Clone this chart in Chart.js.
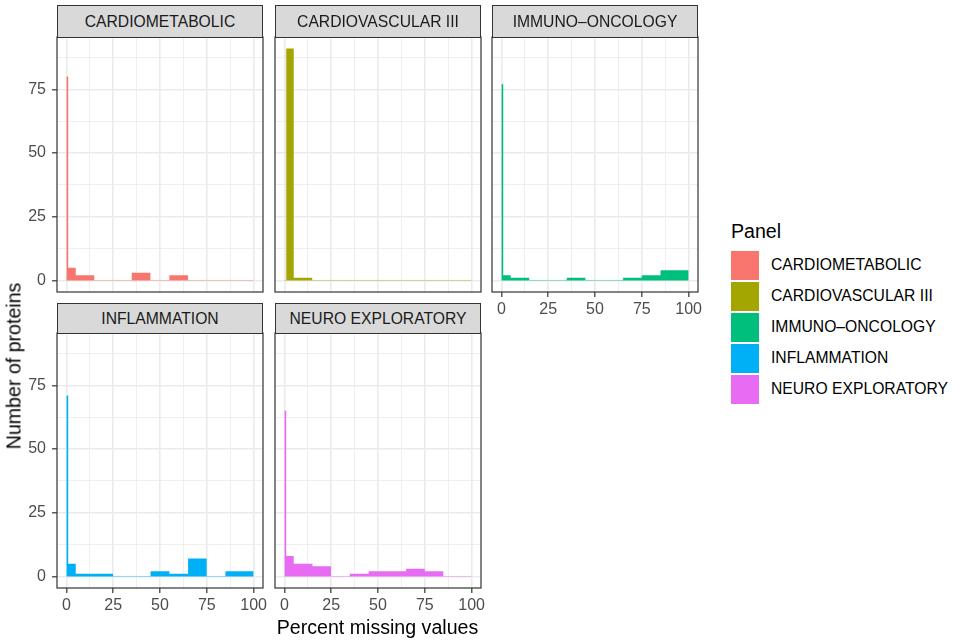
<!DOCTYPE html>
<html lang="en">
<head>
<meta charset="UTF-8" />
<title>Percent missing values per panel</title>
<script src="https://cdn.jsdelivr.net/npm/chart.js"></script>
<style>
  body { margin: 0; background: #fff; font-family: "Liberation Sans", Arial, Helvetica, sans-serif; }
  #wrap { position: relative; width: 957px; height: 641px; overflow: hidden; background: #fff; }
  canvas, .strip, .txt, .key { position: absolute; }
  .strip {
    background: #D9D9D9;
    border: 1px solid #333;
    box-sizing: border-box;
    color: #1A1A1A;
    font-size: 15.7px;
    text-align: center;
    z-index: 2;
  }
  .txt { white-space: nowrap; color: #000; }
  .axis-title { font-size: 19.6px; }
  .legend-label { font-size: 15.7px; }
</style>
</head>
<body>
<div id="wrap"></div>

<script>
  // histogram bins (percent missing) and counts per panel
  const binEdges = [0, 1, 5, 15, 25, 35, 45, 55, 65, 75, 85, 100];
  const panelNames = ["CARDIOMETABOLIC", "CARDIOVASCULAR III", "IMMUNO\u2013ONCOLOGY", "INFLAMMATION", "NEURO EXPLORATORY"];
  const cardiometabolic = [80, 5, 2, 0, 0, 3, 0, 2, 0, 0, 0];
  const cardiovascular  = [0, 91, 1, 0, 0, 0, 0, 0, 0, 0, 0];
  const immunoOncology  = [77, 2, 1, 0, 0, 1, 0, 0, 1, 2, 4];
  const inflammation    = [71, 5, 1, 1, 0, 0, 2, 1, 7, 0, 2];
  const neuroExploratory = [65, 8, 5, 4, 0, 1, 2, 2, 3, 2, 0];
  const panelColors = ["#F8766D", "#A3A500", "#00BF7D", "#00B0F6", "#E76BF3"];

  const xGrid = [0, 12.5, 25, 37.5, 50, 62.5, 75, 87.5, 100];
  const yGrid = [0, 12.5, 25, 37.5, 50, 62.5, 75, 87.5];
  const xMajor = [0, 25, 50, 75, 100];
  const yMajor = [0, 25, 50, 75];

  const wrap = document.getElementById("wrap");
  const colLeft = [57, 275, 492];
  const rowPos = [{ strip: 5, plot: 37 }, { strip: 303, plot: 333 }];
  const plotW = 206, plotH = 255;
  const tickFont = { family: "'Liberation Sans', Arial, sans-serif", size: 16 };

  const panelBorder = {
    id: "panelBorder",
    afterDraw(chart) {
      const { ctx, chartArea: a } = chart;
      ctx.save();
      ctx.strokeStyle = "#333333";
      ctx.lineWidth = 1.2;
      ctx.strokeRect(a.left, a.top, a.right - a.left, a.bottom - a.top);
      ctx.restore();
    }
  };

  function fade(hex) { return hex + "66"; }

  function noPad(s) {
    s.paddingTop = 0; s.paddingBottom = 0; s.paddingLeft = 0; s.paddingRight = 0;
  }

  function histPoints(counts) {
    // stepped line: each point's value holds until the next edge
    const pts = [{ x: binEdges[0], y: 0 }];
    counts.forEach((c, i) => pts.push({ x: binEdges[i], y: c }));
    pts.push({ x: binEdges[binEdges.length - 1], y: 0 });
    return pts;
  }

  function makePanel(idx, counts, col, row, showY, showX) {
    const plotL = colLeft[col], plotT = rowPos[row].plot;
    const padL = showY ? plotL : 2;
    const padB = showX ? 30 : 2;
    const padT = 2, padR = 16;

    const strip = document.createElement("div");
    strip.className = "strip";
    strip.style.left = plotL + "px";
    strip.style.top = rowPos[row].strip + "px";
    strip.style.width = plotW + "px";
    strip.style.height = (plotT - rowPos[row].strip + 1) + "px";
    strip.style.lineHeight = (plotT - rowPos[row].strip - 1) + "px";
    strip.textContent = panelNames[idx];
    wrap.appendChild(strip);

    const cv = document.createElement("canvas");
    cv.width = padL + plotW + padR;
    cv.height = padT + plotH + padB;
    cv.style.left = (plotL - padL) + "px";
    cv.style.top = (plotT - padT) + "px";
    wrap.appendChild(cv);

    const color = panelColors[idx];
    new Chart(cv.getContext("2d"), {
      type: "line",
      data: {
        datasets: [{
          label: panelNames[idx],
          data: histPoints(counts),
          stepped: true,
          fill: "origin",
          backgroundColor: color,
          borderWidth: 1,
          borderColor: "rgba(0,0,0,0)",
          segment: {
            borderColor: ctx => ctx.p0.parsed.y === 0 && ctx.p1.parsed.x > ctx.p0.parsed.x ? fade(color) : "rgba(0,0,0,0)"
          },
          pointRadius: 0,
          tension: 0
        }]
      },
      options: {
        responsive: false,
        animation: false,
        devicePixelRatio: 1,
        layout: { padding: { top: padT, right: padR, left: 0, bottom: 0 } },
        plugins: { legend: { display: false }, tooltip: { enabled: false } },
        scales: {
          x: {
            type: "linear",
            min: -5, max: 105,
            afterBuildTicks: s => { s.ticks = xGrid.map(v => ({ value: v })); },
            afterFit: s => { s.height = padB; noPad(s); },
            border: { display: false },
            grid: {
              color: "#EBEBEB",
              lineWidth: c => xMajor.includes(c.tick.value) ? 1.6 : 0.8,
              drawTicks: showX,
              tickLength: 5,
              tickWidth: 1.2,
              tickColor: c => xMajor.includes(c.tick.value) ? "#333333" : "rgba(0,0,0,0)"
            },
            ticks: {
              display: showX,
              autoSkip: false,
              maxRotation: 0, minRotation: 0,
              padding: 3,
              color: "#4D4D4D",
              font: tickFont,
              callback: v => xMajor.includes(v) ? String(v) : ""
            }
          },
          y: {
            type: "linear",
            min: -4.55, max: 95.55,
            afterBuildTicks: s => { s.ticks = yGrid.map(v => ({ value: v })); },
            afterFit: s => { s.width = padL; noPad(s); },
            border: { display: false },
            grid: {
              color: "#EBEBEB",
              lineWidth: c => yMajor.includes(c.tick.value) ? 1.6 : 0.8,
              drawTicks: showY,
              tickLength: 5,
              tickWidth: 1.2,
              tickColor: c => yMajor.includes(c.tick.value) ? "#333333" : "rgba(0,0,0,0)"
            },
            ticks: {
              display: showY,
              autoSkip: false,
              padding: 6,
              color: "#4D4D4D",
              font: tickFont,
              callback: v => yMajor.includes(v) ? String(v) : ""
            }
          }
        }
      },
      plugins: [panelBorder]
    });
  }

  makePanel(0, cardiometabolic, 0, 0, true, false);
  makePanel(1, cardiovascular, 1, 0, false, false);
  makePanel(2, immunoOncology, 2, 0, false, true);
  makePanel(3, inflammation, 0, 1, true, true);
  makePanel(4, neuroExploratory, 1, 1, false, true);

  function addText(text, cls, x, y, rotate) {
    const d = document.createElement("div");
    d.className = "txt " + cls;
    d.textContent = text;
    d.style.left = x + "px";
    d.style.top = y + "px";
    d.style.transform = "translate(-50%, -50%)" + (rotate ? " rotate(-90deg)" : "");
    wrap.appendChild(d);
  }

  // axis titles
  addText("Percent missing values", "axis-title", 377.5, 627);
  addText("Number of proteins", "axis-title", 14, 366, true);

  // legend
  const legendTitle = document.createElement("div");
  legendTitle.className = "txt axis-title";
  legendTitle.textContent = "Panel";
  legendTitle.style.left = "731px";
  legendTitle.style.top = "220px";
  wrap.appendChild(legendTitle);

  panelNames.forEach((name, i) => {
    const key = document.createElement("div");
    key.className = "key";
    key.style.left = "731px";
    key.style.top = (251 + i * 31) + "px";
    key.style.width = "28px";
    key.style.height = "29px";
    key.style.background = panelColors[i];
    wrap.appendChild(key);

    const lab = document.createElement("div");
    lab.className = "txt legend-label";
    lab.textContent = name;
    lab.style.left = "771px";
    lab.style.top = (265 + i * 31) + "px";
    lab.style.transform = "translateY(-50%)";
    wrap.appendChild(lab);
  });
</script>
</body>
</html>
